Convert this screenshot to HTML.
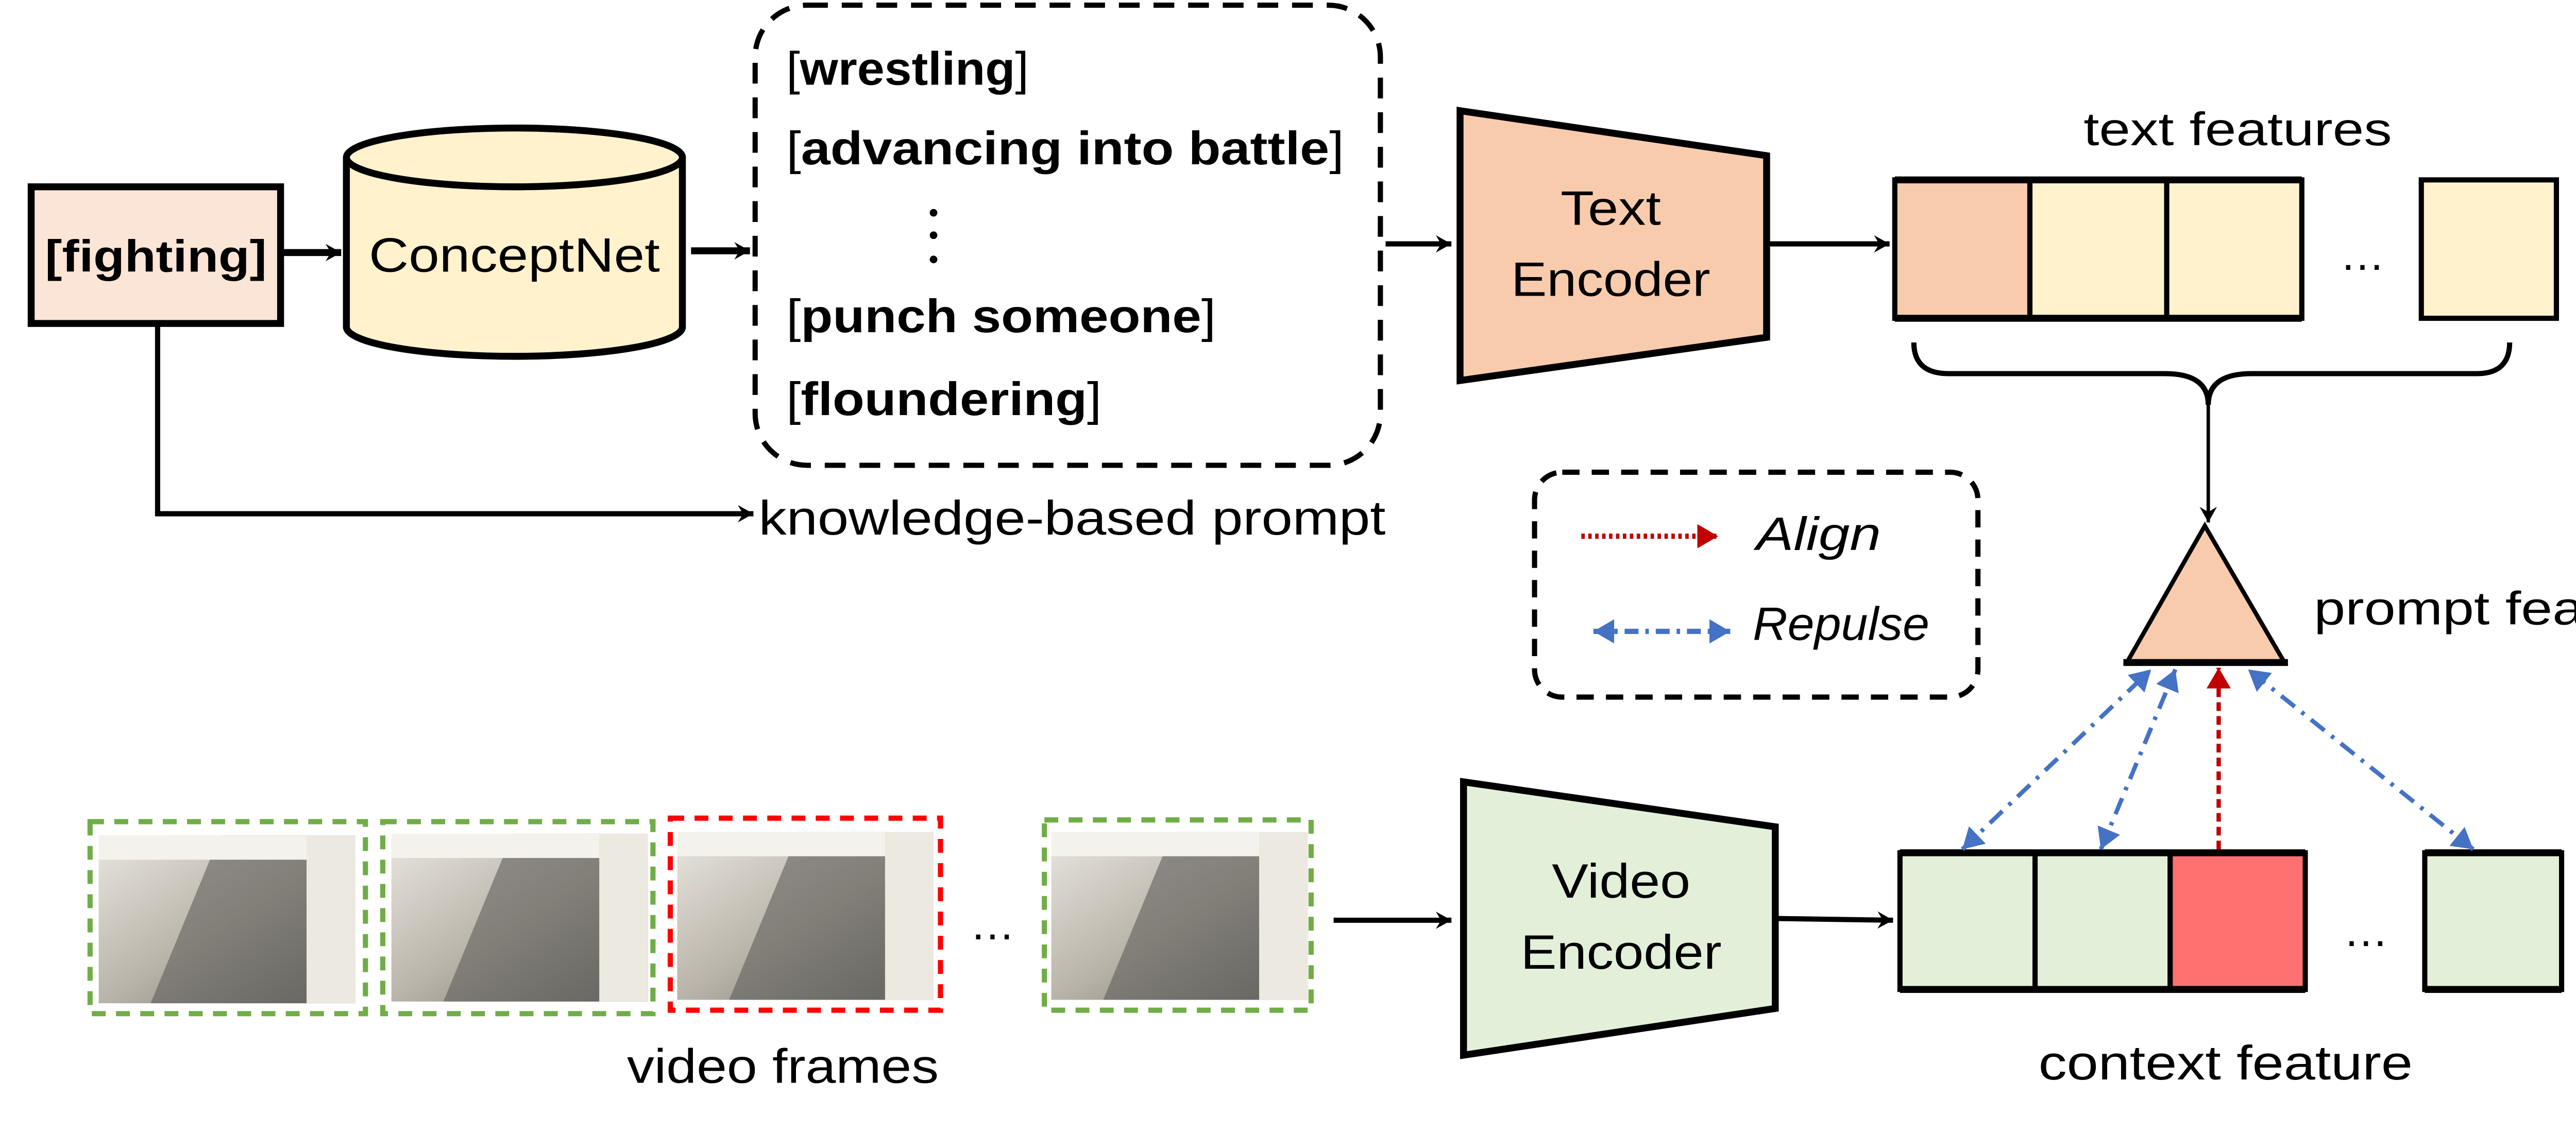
<!DOCTYPE html>
<html><head><meta charset="utf-8"><style>html,body{margin:0;padding:0;background:#fff;overflow:hidden}svg{display:block}</style></head>
<body>
<svg width="5241" height="2200" viewBox="0 0 1559 655" preserveAspectRatio="none" xmlns="http://www.w3.org/2000/svg" font-family="Liberation Sans, sans-serif">
<defs>
<marker id="ab" markerWidth="10" markerHeight="10" refX="9" refY="5" orient="auto" markerUnits="userSpaceOnUse"><path d="M0,0 L9,5 L0,10 L3,5 Z" fill="#000"/></marker>
<marker id="ar" markerWidth="14" markerHeight="14" refX="12" refY="7" orient="auto" markerUnits="userSpaceOnUse"><path d="M0,0 L12,7 L0,14 Z" fill="#c00000"/></marker>
<marker id="au" markerWidth="14" markerHeight="14" refX="12" refY="7" orient="auto" markerUnits="userSpaceOnUse"><path d="M0,0 L12,7 L0,14 Z" fill="#4472c4"/></marker>
<marker id="aus" markerWidth="14" markerHeight="14" refX="2" refY="7" orient="auto" markerUnits="userSpaceOnUse"><path d="M14,0 L2,7 L14,14 Z" fill="#4472c4"/></marker>
<linearGradient id="cor" x1="0" y1="0" x2="1" y2="1"><stop offset="0" stop-color="#e9e6df"/><stop offset="0.5" stop-color="#b9b4aa"/><stop offset="1" stop-color="#6d6b66"/></linearGradient>
<g id="img">
<rect x="0" y="0" width="148" height="97" fill="url(#cor)"/>
<polygon points="70,0 148,0 148,97 30,97" fill="#5f5e5a" opacity="0.6"/>
<rect x="0" y="0" width="148" height="14" fill="#f4f2ec"/>
<rect x="120" y="0" width="28" height="97" fill="#ece9e1"/>
</g>
</defs>

<rect x="18" y="108" width="144" height="79" fill="#fbe5d6" stroke="#000" stroke-width="4"/>
<text x="90" y="157" font-size="26" font-weight="bold" text-anchor="middle" textLength="128" lengthAdjust="spacingAndGlyphs">[fighting]</text>
<line x1="162" y1="146" x2="197" y2="146" stroke="#000" stroke-width="4" marker-end="url(#ab)"/>

<path d="M200,91 L200,189 A97,17 0 0 0 394,189 L394,91" fill="#fff2cc" stroke="#000" stroke-width="4"/>
<ellipse cx="297" cy="91" rx="97" ry="17" fill="#fff2cc" stroke="#000" stroke-width="4"/>
<text x="297" y="157" font-size="28" text-anchor="middle" textLength="168" lengthAdjust="spacingAndGlyphs">ConceptNet</text>
<line x1="399" y1="145" x2="433" y2="145" stroke="#000" stroke-width="4" marker-end="url(#ab)"/>

<rect x="436" y="3" width="361" height="266" rx="30" fill="none" stroke="#000" stroke-width="3" stroke-dasharray="12,8"/>
<g font-size="27">
<text x="454" y="49" textLength="140" lengthAdjust="spacingAndGlyphs">[<tspan font-weight="bold">wrestling</tspan>]</text>
<text x="454" y="95" textLength="322" lengthAdjust="spacingAndGlyphs">[<tspan font-weight="bold">advancing into battle</tspan>]</text>
<text x="454" y="192" textLength="248" lengthAdjust="spacingAndGlyphs">[<tspan font-weight="bold">punch someone</tspan>]</text>
<text x="454" y="240" textLength="182" lengthAdjust="spacingAndGlyphs">[<tspan font-weight="bold">floundering</tspan>]</text>
</g>
<circle cx="539" cy="123" r="2.2"/><circle cx="539" cy="136" r="2.2"/><circle cx="539" cy="150" r="2.2"/>

<polyline points="91,187 91,297 435,297" fill="none" stroke="#000" stroke-width="3" marker-end="url(#ab)"/>
<text x="438" y="309" font-size="28" textLength="362" lengthAdjust="spacingAndGlyphs">knowledge-based prompt</text>

<line x1="800" y1="141" x2="838" y2="141" stroke="#000" stroke-width="3" marker-end="url(#ab)"/>
<polygon points="843,64 1020,90 1020,195 843,220" fill="#f8cbad" stroke="#000" stroke-width="4"/>
<text x="930" y="130" font-size="28" text-anchor="middle" textLength="58" lengthAdjust="spacingAndGlyphs">Text</text>
<text x="930" y="171" font-size="28" text-anchor="middle" textLength="115" lengthAdjust="spacingAndGlyphs">Encoder</text>
<line x1="1021" y1="141" x2="1091" y2="141" stroke="#000" stroke-width="3" marker-end="url(#ab)"/>

<text x="1203" y="84" font-size="27" textLength="178" lengthAdjust="spacingAndGlyphs">text features</text>
<g stroke="#000" stroke-width="3">
<rect x="1094" y="104" width="78" height="80" fill="#f8cbad"/>
<rect x="1172" y="104" width="79" height="80" fill="#fff2cc"/>
<rect x="1251" y="104" width="78" height="80" fill="#fff2cc"/>
<rect x="1398" y="104" width="78" height="80" fill="#fff2cc"/>
</g>
<line x1="1094" y1="104" x2="1329" y2="104" stroke="#000" stroke-width="4"/>
<line x1="1094" y1="184" x2="1329" y2="184" stroke="#000" stroke-width="4"/>
<text x="1364" y="156" font-size="26" text-anchor="middle">…</text>

<path d="M1105,198 Q1105,216 1125,216 L1250,216 Q1275,216 1275,234 Q1275,216 1300,216 L1430,216 Q1449,216 1449,198" fill="none" stroke="#000" stroke-width="3"/>
<line x1="1275" y1="234" x2="1275" y2="302" stroke="#000" stroke-width="2" marker-end="url(#ab)"/>

<polygon points="1273,304 1228,383 1319,383" fill="#f8cbad" stroke="#000" stroke-width="2.5"/>
<line x1="1226" y1="383" x2="1321" y2="383" stroke="#000" stroke-width="4"/>
<text x="1336" y="361" font-size="27" textLength="212" lengthAdjust="spacingAndGlyphs">prompt feature</text>

<rect x="886" y="273" width="256" height="130" rx="16" fill="none" stroke="#000" stroke-width="3" stroke-dasharray="10,7"/>
<line x1="913" y1="310" x2="992" y2="310" stroke="#c00000" stroke-width="3" stroke-dasharray="2,2" marker-end="url(#ar)"/>
<text x="1014" y="318" font-size="27" font-style="italic" textLength="72" lengthAdjust="spacingAndGlyphs">Align</text>
<line x1="920" y1="365" x2="999" y2="365" stroke="#4472c4" stroke-width="3" stroke-dasharray="8,4,2,4" marker-start="url(#aus)" marker-end="url(#au)"/>
<text x="1012" y="370" font-size="27" font-style="italic" textLength="102" lengthAdjust="spacingAndGlyphs">Repulse</text>

<g>
<use href="#img" transform="translate(57,483)"/>
<rect x="52" y="475" width="159" height="111" fill="none" stroke="#70ad47" stroke-width="3" stroke-dasharray="8,6"/>
<use href="#img" transform="translate(226,482)"/>
<rect x="221" y="475" width="156" height="111" fill="none" stroke="#70ad47" stroke-width="3" stroke-dasharray="8,6"/>
<use href="#img" transform="translate(391,481)"/>
<rect x="387" y="473" width="156" height="111" fill="none" stroke="#ff0000" stroke-width="3" stroke-dasharray="8,6"/>
<use href="#img" transform="translate(607,481)"/>
<rect x="603" y="474" width="154" height="110" fill="none" stroke="#70ad47" stroke-width="3" stroke-dasharray="8,6"/>
</g>
<text x="573" y="543" font-size="26" text-anchor="middle">…</text>
<text x="362" y="626" font-size="28" textLength="180" lengthAdjust="spacingAndGlyphs">video frames</text>

<line x1="770" y1="532" x2="838" y2="532" stroke="#000" stroke-width="3" marker-end="url(#ab)"/>
<polygon points="845,452 1025,478 1025,583 845,610" fill="#e2f0d9" stroke="#000" stroke-width="4"/>
<text x="936" y="519" font-size="28" text-anchor="middle" textLength="80" lengthAdjust="spacingAndGlyphs">Video</text>
<text x="936" y="560" font-size="28" text-anchor="middle" textLength="116" lengthAdjust="spacingAndGlyphs">Encoder</text>
<line x1="1026" y1="531" x2="1093" y2="532" stroke="#000" stroke-width="3" marker-end="url(#ab)"/>

<g stroke="#000" stroke-width="3">
<rect x="1097" y="493" width="78" height="79" fill="#e2f0d9"/>
<rect x="1175" y="493" width="78" height="79" fill="#e2f0d9"/>
<rect x="1253" y="493" width="78" height="79" fill="#ff7171"/>
<rect x="1400" y="493" width="79" height="79" fill="#e2f0d9"/>
</g>
<line x1="1097" y1="493" x2="1331" y2="493" stroke="#000" stroke-width="4"/>
<line x1="1097" y1="572" x2="1331" y2="572" stroke="#000" stroke-width="4"/>
<line x1="1400" y1="493" x2="1479" y2="493" stroke="#000" stroke-width="4"/>
<line x1="1400" y1="572" x2="1479" y2="572" stroke="#000" stroke-width="4"/>
<text x="1366" y="547" font-size="26" text-anchor="middle">…</text>
<text x="1177" y="624" font-size="28" textLength="216" lengthAdjust="spacingAndGlyphs">context feature</text>

<line x1="1281" y1="491" x2="1281" y2="386" stroke="#c00000" stroke-width="2.5" stroke-dasharray="5,3" marker-end="url(#ar)"/>
<g stroke="#4472c4" stroke-width="2.5" stroke-dasharray="10,5,2,5" fill="none">
<line x1="1133" y1="491" x2="1242" y2="387" marker-start="url(#aus)" marker-end="url(#au)"/>
<line x1="1213" y1="491" x2="1256" y2="387" marker-start="url(#aus)" marker-end="url(#au)"/>
<line x1="1428" y1="491" x2="1298" y2="387" marker-start="url(#aus)" marker-end="url(#au)"/>
</g>
</svg>
</body></html>
